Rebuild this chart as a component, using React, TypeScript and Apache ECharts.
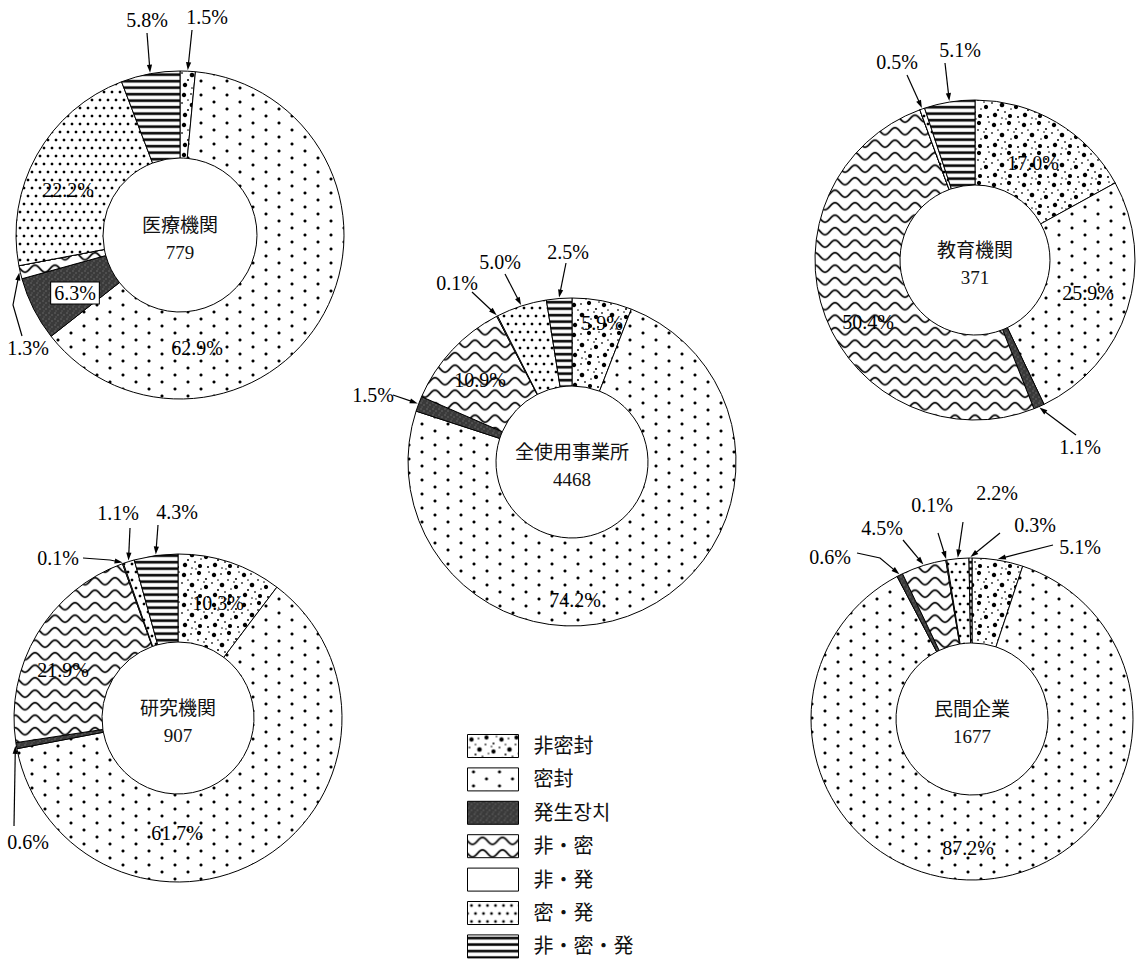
import React, { useEffect, useRef } from 'react';
import * as echarts from 'echarts';

// ---------------- data ----------------
const categories = ['非密封', '密封', '発生장치', '非・密', '非・発', '密・発', '非・密・発'];
const donutNames = ['医療機関', '教育機関', '全使用事業所', '研究機関', '民間企業'];
const donutTotals = [779, 371, 4468, 907, 1677];
const iryoShare = [1.5, 62.9, 6.3, 1.3, 0, 22.2, 5.8];
const kyoikuShare = [17.0, 25.9, 1.1, 50.4, 0, 0.5, 5.1];
const zenShare = [5.9, 74.2, 1.5, 10.9, 0.1, 5.0, 2.5];
const kenkyuShare = [10.3, 61.7, 0.6, 21.9, 0.1, 1.1, 4.3];
const minkanShare = [5.1, 87.2, 0.6, 4.5, 0.1, 2.2, 0.3];
const shares = [iryoShare, kyoikuShare, zenShare, kenkyuShare, minkanShare];

// ---------------- layout ----------------
const centers: number[][] = [[180, 235], [975, 260], [572, 462], [178, 718], [972, 719]];
const radii: number[][] = [[77, 164], [75, 160], [76, 164], [76, 164], [76, 161]];

const labelPos: Record<string, number[]> = {
  '0-0': [207, 17], '0-1': [197, 348], '0-2': [75, 293], '0-3': [28, 348], '0-5': [68, 190], '0-6': [147, 20],
  '1-0': [1033, 163], '1-1': [1088, 293], '1-2': [1080, 447], '1-3': [868, 322], '1-5': [897, 62], '1-6': [960, 50],
  '2-0': [602, 323], '2-1': [575, 600], '2-2': [373, 395], '2-3': [480, 380], '2-4': [457, 283], '2-5': [500, 262], '2-6': [568, 252],
  '3-0': [218, 603], '3-1': [177, 833], '3-2': [28, 842], '3-3': [63, 670], '3-4': [58, 558], '3-5': [118, 513], '3-6': [177, 512],
  '4-0': [1080, 547], '4-1': [968, 848], '4-2': [830, 557], '4-3': [882, 528], '4-4': [932, 505], '4-5': [997, 493], '4-6': [1035, 525],
};
const leaderStarts: Record<string, number[][]> = {
  '0-0': [[192, 30]], '0-3': [[22, 336], [13, 305]], '0-6': [[147, 33]],
  '1-2': [[1076, 435]], '1-5': [[907, 75]], '1-6': [[945, 63]],
  '2-2': [[393, 395]], '2-4': [[472, 292]], '2-5': [[505, 274]], '2-6': [[566, 263]],
  '3-2': [[14, 826]], '3-4': [[83, 558], [110, 560]], '3-5': [[130, 528]], '3-6': [[158, 525]],
  '4-0': [[1053, 545]], '4-2': [[857, 553], [880, 558]], '4-3': [[903, 540]], '4-4': [[938, 533]], '4-5': [[963, 522]], '4-6': [[1000, 533]],
};
const boxedLabels = ['0-2'];

const FONT = "'Liberation Serif', 'DejaVu Serif', 'Noto Sans CJK JP', serif";

// ---------------- patterns ----------------
function tile(w: number, h: number, bg: string, draw: (ctx: CanvasRenderingContext2D) => void) {
  const s = 2;
  const c = document.createElement('canvas');
  c.width = Math.round(w * s);
  c.height = Math.round(h * s);
  const ctx = c.getContext('2d') as CanvasRenderingContext2D;
  ctx.scale(s, s);
  ctx.fillStyle = bg;
  ctx.fillRect(0, 0, w, h);
  ctx.fillStyle = '#000';
  ctx.strokeStyle = '#000';
  draw(ctx);
  return { image: c, repeat: 'repeat', imageWidth: w, imageHeight: h };
}
function dots(ctx: CanvasRenderingContext2D, list: number[][]) {
  for (const [x, y, r] of list) {
    ctx.beginPath();
    ctx.arc(x, y, r, 0, Math.PI * 2);
    ctx.fill();
  }
}
function makePatterns() {
  const bigDots = tile(30, 30, '#fff', (ctx) => {
    dots(ctx, [
      [4, 5, 2.2], [19, 3, 2.1], [12, 15, 2.3], [26, 17, 2.1], [5, 25, 2.2], [20, 26, 2.0],
      [11, 4, 0.9], [26, 9, 1.0], [2, 13, 0.9], [18, 10, 0.9], [8, 20, 1.0], [21, 19, 0.8],
      [15, 22, 0.9], [28, 27, 1.0], [12, 28, 0.8], [24, 12, 0.8], [8, 10, 0.8], [16, 29, 0.7], [29, 2, 0.8],
    ]);
  });
  const sparseDots = tile(26, 14, '#fff', (ctx) => {
    dots(ctx, [[6, 4, 1.5], [19, 11, 1.5]]);
  });
  const dark = tile(6, 6, '#3a3a3a', (ctx) => {
    ctx.fillStyle = '#888';
    dots(ctx, [[1, 1, 0.6], [4, 3, 0.6], [2, 5, 0.5]]);
  });
  const waves = tile(20, 12.5, '#fff', (ctx) => {
    ctx.lineWidth = 1.7;
    ctx.beginPath();
    for (let x = -1; x <= 21; x += 0.5) {
      const y = 6.2 + 3.4 * Math.sin((2 * Math.PI * x) / 20);
      if (x === -1) ctx.moveTo(x, y); else ctx.lineTo(x, y);
    }
    ctx.stroke();
  });
  const white = '#ffffff';
  const denseDots = tile(16, 16, '#fff', (ctx) => {
    dots(ctx, [[4, 4, 1.35], [12, 4, 1.35], [0, 12, 1.35], [8, 12, 1.35], [16, 12, 1.35]]);
  });
  const stripes = tile(6, 6.5, '#fff', (ctx) => {
    ctx.fillRect(0, 2, 6, 2.4);
  });
  return [bigDots, sparseDots, dark, waves, white, denseDots, stripes];
}

function arrowGraphics(points: number[][]) {
  const n = points.length;
  const [tx, ty] = points[n - 1];
  const [px, py] = points[n - 2];
  const dx = tx - px, dy = ty - py;
  const len = Math.sqrt(dx * dx + dy * dy) || 1;
  const ux = dx / len, uy = dy / len;
  const al = 8, aw = 2.6;
  const bx = tx - ux * al, by = ty - uy * al;
  const linePts = points.slice(0, n - 1).concat([[tx - ux * 4, ty - uy * 4]]);
  return [
    { type: 'polyline', silent: true, shape: { points: linePts }, style: { stroke: '#000', lineWidth: 1.2, fill: null } },
    {
      type: 'polygon', silent: true,
      shape: { points: [[tx, ty], [bx - uy * aw, by + ux * aw], [bx + uy * aw, by - ux * aw]] },
      style: { fill: '#000', stroke: null },
    },
  ];
}

export default function App() {
  const ref = useRef<HTMLDivElement>(null);
  useEffect(() => {
    if (!ref.current) return;
    const chart = echarts.init(ref.current, undefined, { renderer: 'svg' });
    const patterns = makePatterns();

    const series = shares.map((vals, si) => ({
      type: 'pie',
      name: donutNames[si],
      center: centers[si],
      radius: radii[si],
      startAngle: 90,
      clockwise: true,
      avoidLabelOverlap: false,
      minShowLabelAngle: 0,
      silent: true,
      emphasis: { disabled: true },
      itemStyle: { borderColor: '#000', borderWidth: 1 },
      label: {
        show: true,
        position: 'inside',
        color: '#000',
        fontSize: 20,
        fontFamily: FONT,
        formatter: (p: any) => Number(p.value).toFixed(1) + '%',
      },
      labelLine: { show: false },
      labelLayout: (p: any) => {
        const pos = labelPos[`${si}-${p.dataIndex}`];
        if (!pos) return {};
        return { x: pos[0], y: pos[1], align: 'center', verticalAlign: 'middle', hideOverlap: false };
      },
      data: vals.map((v, i) => {
        const key = `${si}-${i}`;
        const item: any = { name: categories[i], value: v, itemStyle: { color: patterns[i] } };
        if (v === 0) item.label = { show: false };
        else if (boxedLabels.includes(key)) {
          item.label = { backgroundColor: '#fff', borderColor: '#000', borderWidth: 1, padding: [1, 3, 0, 3] };
        }
        return item;
      }),
    }));

    const graphics: any[] = [];
    shares.forEach((vals, si) => {
      const sum = vals.reduce((a, b) => a + b, 0);
      let cum = 0;
      const [cx, cy] = centers[si];
      const R = radii[si][1];
      vals.forEach((v, i) => {
        const mid = ((cum + v / 2) / sum) * Math.PI * 2;
        cum += v;
        const starts = leaderStarts[`${si}-${i}`];
        if (!starts || v === 0) return;
        const tip = [cx + (R + 1) * Math.sin(mid), cy - (R + 1) * Math.cos(mid)];
        graphics.push(...arrowGraphics(starts.concat([tip])));
      });
      graphics.push({
        type: 'text', silent: true, x: cx, y: cy - 10,
        style: { text: donutNames[si], fontSize: 19, fontFamily: FONT, fill: '#111', align: 'center', verticalAlign: 'middle' },
      });
      graphics.push({
        type: 'text', silent: true, x: cx, y: cy + 17,
        style: { text: String(donutTotals[si]), fontSize: 19, fontFamily: FONT, fill: '#111', align: 'center', verticalAlign: 'middle' },
      });
    });

    chart.setOption({
      animation: false,
      backgroundColor: '#fff',
      legend: {
        data: categories,
        orient: 'vertical',
        left: 467,
        top: 734,
        height: 300,
        icon: 'rect',
        itemWidth: 51,
        itemHeight: 23,
        itemGap: 9.4,
        selectedMode: false,
        padding: 0,
        itemStyle: { borderColor: '#000', borderWidth: 1 },
        textStyle: { fontSize: 20, fontFamily: FONT, color: '#111', padding: [0, 0, 0, 10] },
      },
      series,
      graphic: { elements: graphics },
    });
    return () => chart.dispose();
  }, []);
  return (
    <div
      ref={ref}
      style={{ position: 'fixed', left: 0, top: 0, width: 1144, height: 961, background: '#fff' }}
    />
  );
}
